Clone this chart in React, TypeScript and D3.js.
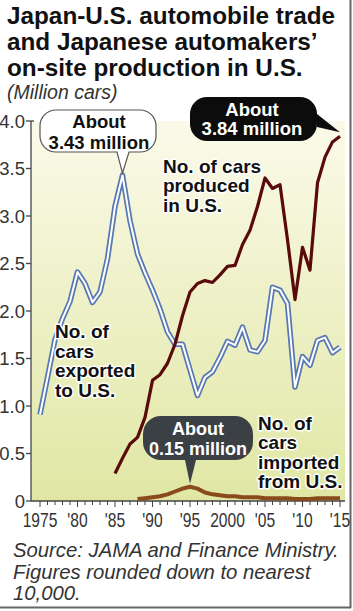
import * as d3 from "d3"

// data (million cars)
const exportYears = d3.range(1975, 2016)
const exportsToUS = [
  0.91, 1.3, 1.7, 1.92, 2.1, 2.41, 2.29, 2.09, 2.2, 2.55,
  3.1, 3.43, 2.95, 2.6, 2.4, 2.22, 2.02, 1.78, 1.65, 1.65,
  1.38, 1.11, 1.3, 1.36, 1.51, 1.68, 1.64, 1.83, 1.59, 1.57,
  1.69, 2.25, 2.22, 2.08, 1.2, 1.52, 1.43, 1.69, 1.72, 1.56, 1.62,
]
const productionYears = d3.range(1985, 2016)
const producedInUS = [
  0.29, 0.45, 0.6, 0.67, 0.88, 1.27, 1.33, 1.45, 1.65, 1.95,
  2.2, 2.29, 2.32, 2.3, 2.38, 2.47, 2.48, 2.7, 2.85, 3.1,
  3.4, 3.29, 3.33, 2.75, 2.12, 2.67, 2.43, 3.35, 3.62, 3.78, 3.84,
]
const importYears = d3.range(1988, 2016)
const importsFromUS = [
  0.02, 0.03, 0.04, 0.05, 0.07, 0.1, 0.13, 0.15, 0.13, 0.09,
  0.07, 0.06, 0.05, 0.05, 0.04, 0.04, 0.04, 0.03, 0.03, 0.03,
  0.03, 0.02, 0.02, 0.02, 0.03, 0.03, 0.03, 0.03,
]
const yTicks = [0, 0.5, 1, 1.5, 2, 2.5, 3, 3.5, 4]
const xLabelYears = [1975, 1980, 1985, 1990, 1995, 2000, 2005, 2010, 2015]
const xLabels = ["1975", "'80", "'85", "'90", "'95", "2000", "'05", "'10", "'15"]
const titleLines = [
  "Japan-U.S. automobile trade",
  "and Japanese automakers’",
  "on-site production in U.S.",
]
const sourceLines = [
  "Source: JAMA and Finance Ministry.",
  "Figures rounded down to nearest",
  "10,000.",
]
const producedLabel = ["No. of cars", "produced", "in U.S."]
const exportedLabel = ["No. of", "cars", "exported", "to U.S."]
const importedLabel = ["No. of", "cars", "imported", "from U.S."]

const FONT = "'Liberation Sans', Arial, Helvetica, sans-serif"

// rounded box with a speech tail
function bubble(x, y, w, h, r, tail) {
  const p = d3.path()
  p.moveTo(x + r, y)
  p.lineTo(x + w - r, y)
  p.arcTo(x + w, y, x + w, y + r, r)
  if (tail.side === "right") {
    p.lineTo(x + w, tail.a)
    p.lineTo(tail.tx, tail.ty)
    p.lineTo(x + w, tail.b)
  }
  p.lineTo(x + w, y + h - r)
  p.arcTo(x + w, y + h, x + w - r, y + h, r)
  if (tail.side === "bottom") {
    p.lineTo(tail.b, y + h)
    p.lineTo(tail.tx, tail.ty)
    p.lineTo(tail.a, y + h)
  }
  p.lineTo(x + r, y + h)
  p.arcTo(x, y + h, x, y + h - r, r)
  p.lineTo(x, y + r)
  p.arcTo(x, y, x + r, y, r)
  p.closePath()
  return p.toString()
}

export default function App() {
  const width = 353
  const height = 611

  const x = d3.scaleLinear().domain([1975, 2015]).range([40, 340])
  const y = d3.scaleLinear().domain([0, 4]).range([501, 121])

  const line = d3
    .line<[number, number]>()
    .x((d) => x(d[0]))
    .y((d) => y(d[1]))

  const exportsPath = line(exportYears.map((yr, i) => [yr, exportsToUS[i]]))
  const prodPath = line(productionYears.map((yr, i) => [yr, producedInUS[i]]))
  const importPath = line(importYears.map((yr, i) => [yr, importsFromUS[i]]))

  const halo = {
    stroke: "#fff",
    strokeWidth: 3,
    paintOrder: "stroke",
    strokeLinejoin: "round",
  } as const

  const plotLeft = 31
  const plotRight = 345

  // multi-line label, each line its own text
  const label = (lines, x0, y0, step) =>
    lines.map((t, i) => (
      <text key={t} x={x0} y={y0 + i * step} fontSize={19} fontWeight="bold" fill="#111" {...halo}>
        {t}
      </text>
    ))

  return (
    <svg
      width={width}
      height={height}
      style={{ position: "absolute", left: 0, top: 0, background: "#fff" }}
      fontFamily={FONT}
    >
      <defs>
        <linearGradient id="bg" x1="0" y1="0" x2="0" y2="1">
          <stop offset="0" stopColor="#fbfaea" />
          <stop offset="0.45" stopColor="#eff1c9" />
          <stop offset="1" stopColor="#e0e7a4" />
        </linearGradient>
      </defs>

      {/* frame shadow */}
      <line x1={350.5} y1={0} x2={350.5} y2={608} stroke="#666" strokeWidth={2} />
      <line x1={0} y1={607.5} x2={351} y2={607.5} stroke="#666" strokeWidth={2} />

      {/* title */}
      {titleLines.map((t, i) => (
        <text key={t} x={7} y={23.5 + i * 26} fontSize={24.3} fontWeight="bold" fill="#111">
          {t}
        </text>
      ))}
      <text x={7} y={99} fontSize={19.5} fontStyle="italic" fill="#333">
        (Million cars)
      </text>

      {/* plot background */}
      <rect
        x={plotLeft}
        y={y(4)}
        width={plotRight - plotLeft}
        height={y(0) - y(4)}
        fill="url(#bg)"
      />

      {/* y axis */}
      <line x1={plotLeft} y1={y(4)} x2={plotLeft} y2={y(0)} stroke="#444" strokeWidth={1.3} />
      {yTicks.map((v) => (
        <g key={v}>
          <line x1={plotLeft - 5} x2={plotLeft + (v === 4 ? 3 : 0)} y1={y(v)} y2={y(v)} stroke="#444" strokeWidth={1.3} />
          <text x={25} y={y(v) + 6.5} fontSize={18.5} textAnchor="end" fill="#333">
            {v === 0 ? "0" : v.toFixed(1)}
          </text>
        </g>
      ))}

      {/* x axis */}
      <line x1={plotLeft} y1={y(0)} x2={plotRight} y2={y(0)} stroke="#444" strokeWidth={1.3} />
      {exportYears.map((yr) => (
        <line
          key={yr}
          x1={x(yr)}
          x2={x(yr)}
          y1={y(0)}
          y2={y(0) + (yr % 5 === 0 ? 6 : 4)}
          stroke="#444"
          strokeWidth={1}
        />
      ))}
      {xLabelYears.map((yr, i) => (
        <text
          key={yr}
          transform={`translate(${x(yr)},${527}) scale(0.78,1)`}
          fontSize={20}
          textAnchor="middle"
          fill="#333"
        >
          {xLabels[i]}
        </text>
      ))}

      {/* series */}
      <path d={exportsPath} fill="none" stroke="#5878b4" strokeWidth={5.5} strokeLinejoin="round" />
      <path d={exportsPath} fill="none" stroke="#fff" strokeWidth={2} strokeLinejoin="round" />
      <path d={prodPath} fill="none" stroke="#5a0a0a" strokeWidth={3.2} strokeLinejoin="round" />
      <path d={importPath} fill="none" stroke="#8a4a1c" strokeWidth={4} strokeLinejoin="round" />

      {/* callouts */}
      <path
        d={bubble(40, 110, 116, 42, 16, { side: "bottom", a: 117, b: 129, tx: x(1986), ty: y(3.43) - 2 })}
        fill="#fff"
        stroke="#555"
        strokeWidth={1.2}
      />
      <text x={99} y={128} fontSize={18.5} fontWeight="bold" textAnchor="middle" fill="#111">
        About
      </text>
      <text x={99} y={149} fontSize={18.5} fontWeight="bold" textAnchor="middle" fill="#111">
        3.43 million
      </text>

      <path
        d={bubble(190, 97, 127, 44, 17, { side: "right", a: 114, b: 127, tx: x(2015), ty: y(3.84) - 4 })}
        fill="#0c0c0c"
      />
      <text x={252} y={116} fontSize={18.5} fontWeight="bold" textAnchor="middle" fill="#fff">
        About
      </text>
      <text x={252} y={135} fontSize={18.5} fontWeight="bold" textAnchor="middle" fill="#fff">
        3.84 million
      </text>

      <path
        d={bubble(143, 416, 110, 44, 18, { side: "bottom", a: 185, b: 196, tx: x(1995), ty: y(0.15) - 3 })}
        fill="#3b4045"
      />
      <text x={198} y={435} fontSize={18} fontWeight="bold" textAnchor="middle" fill="#fff">
        About
      </text>
      <text x={198} y={455} fontSize={18} fontWeight="bold" textAnchor="middle" fill="#fff">
        0.15 million
      </text>

      {/* series labels */}
      {label(producedLabel, 163, 173, 19.3)}
      {label(exportedLabel, 55, 338, 19.7)}
      {label(importedLabel, 258, 430, 19.3)}

      {/* source */}
      {sourceLines.map((t, i) => (
        <text key={t} x={13} y={557 + i * 21.5} fontSize={20.3} fontStyle="italic" fill="#333">
          {t}
        </text>
      ))}
    </svg>
  )
}
